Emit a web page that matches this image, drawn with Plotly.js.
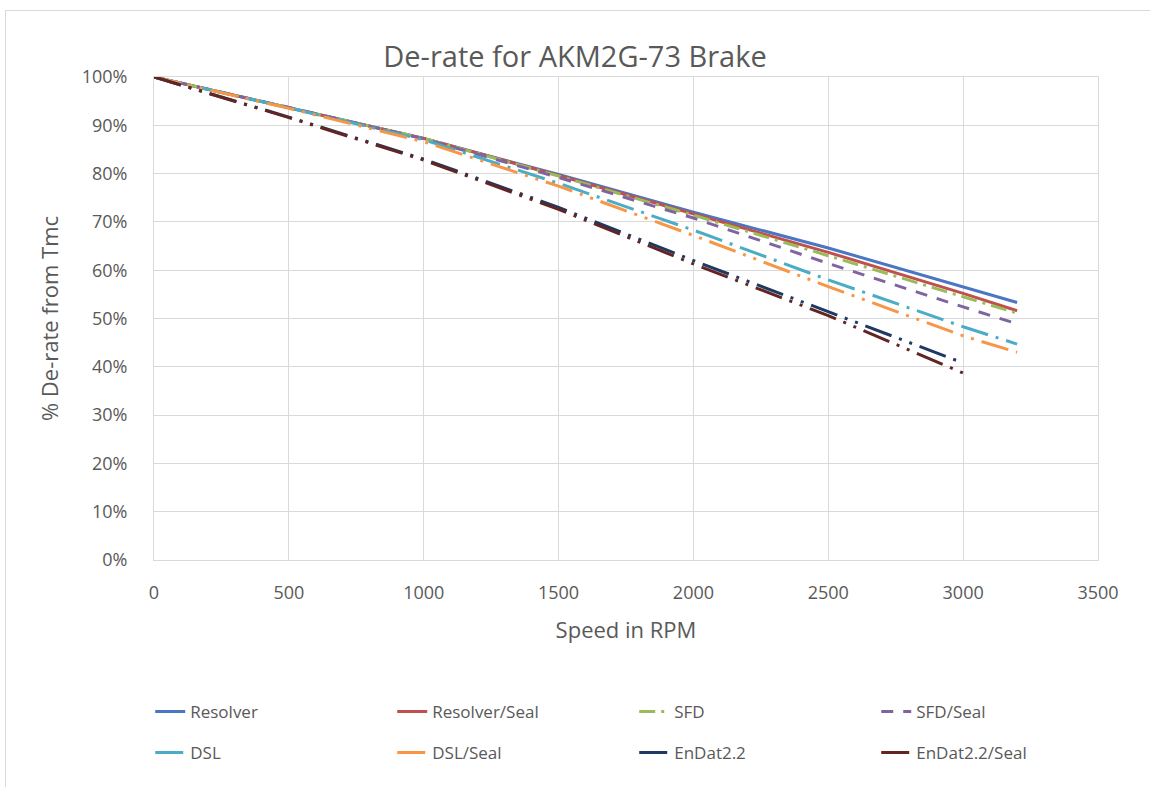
<!DOCTYPE html>
<html>
<head>
<meta charset="utf-8">
<script src="https://cdn.plot.ly/plotly-3.0.1.min.js"></script>
<style>
  html, body { margin: 0; padding: 0; background: #fff; }
  #chart { width: 1150px; height: 787px; position: absolute; left: 0; top: 0; }
  #frame { position: absolute; left: 5px; top: 10px; width: 1160px; height: 800px;
           border-left: 1px solid #d9d9d9; border-top: 1px solid #d9d9d9; pointer-events: none; }
</style>
</head>
<body>
<div id="chart"></div>
<div id="frame"></div>
<script>
const speedLong  = [0, 500, 1000, 1500, 2000, 2500, 3000, 3200];
const speedShort = [0, 500, 1000, 1500, 2000, 2500, 3000];

const seriesNames = ["Resolver", "Resolver/Seal", "SFD", "SFD/Seal",
                     "DSL", "DSL/Seal", "EnDat2.2", "EnDat2.2/Seal"];

const resolver      = [100, 93.7, 87.3, 79.8, 72.0, 64.6, 56.5, 53.3];
const resolverSeal  = [100, 93.7, 87.3, 79.6, 71.6, 63.7, 55.2, 51.6];
const sfd           = [100, 93.7, 87.3, 79.5, 71.4, 63.0, 54.4, 51.1];
const sfdSeal       = [100, 93.7, 87.2, 79.2, 70.8, 61.4, 52.4, 48.9];
const dsl           = [100, 93.6, 87.0, 78.0, 68.3, 58.0, 48.3, 44.7];
const dslSeal       = [100, 93.5, 86.6, 77.4, 67.2, 56.6, 46.4, 43.0];
const endat         = [100, 91.7, 83.0, 73.0, 62.0, 51.4, 40.8];
const endatSeal     = [100, 91.6, 82.8, 72.6, 61.3, 50.6, 38.7];

const yTickVals   = [0, 10, 20, 30, 40, 50, 60, 70, 80, 90, 100];
const yTickLabels = ["0%", "10%", "20%", "30%", "40%", "50%", "60%", "70%", "80%", "90%", "100%"];
const xTickVals   = [0, 500, 1000, 1500, 2000, 2500, 3000, 3500];

const styles = [
  {color: "#4A76C2", dash: "solid", legend: "legend"},
  {color: "#C0504D", dash: "solid", legend: "legend"},
  {color: "#9BBB59", dash: "16px,6px,3px,6px", legend: "legend"},
  {color: "#8064A2", dash: "12px,10px", legend: "legend"},
  {color: "#4BACC6", dash: "28px,8px,3px,8px", legend: "legend2"},
  {color: "#F79646", dash: "28px,8px,3px,8px,3px,8px", legend: "legend2"},
  {color: "#1F3864", dash: "28px,8px,3px,8px,3px,8px", legend: "legend2"},
  {color: "#632523", dash: "28px,8px,3px,8px,3px,8px", legend: "legend2"}
];
const xs = [speedLong, speedLong, speedLong, speedLong, speedLong, speedLong, speedShort, speedShort];
const ys = [resolver, resolverSeal, sfd, sfdSeal, dsl, dslSeal, endat, endatSeal];

const traces = seriesNames.map((n, i) => ({
  type: "scatter", mode: "lines", name: n,
  x: xs[i], y: ys[i],
  line: {color: styles[i].color, width: 3, dash: styles[i].dash},
  legend: styles[i].legend,
  hoverinfo: "skip"
}));

const txt = "#595959";
const fontFam = "Open Sans, Noto Sans, sans-serif";
const legendCommon = {
  orientation: "h", xanchor: "left", yanchor: "middle",
  x: -0.004, entrywidth: 197, entrywidthmode: "pixels",
  font: {family: fontFam, size: 17, color: txt},
  bgcolor: "rgba(0,0,0,0)", traceorder: "normal"
};

const layout = {
  width: 1150, height: 787,
  margin: {l: 154, r: 52, t: 77, b: 227},
  paper_bgcolor: "#fff", plot_bgcolor: "#fff",
  font: {family: fontFam, color: txt},
  title: {text: "De-rate for AKM2G-73 Brake", x: 0.5, xanchor: "center",
          y: 1 - 57/787, yanchor: "middle", yref: "container",
          font: {family: fontFam, size: 29, color: txt}},
  xaxis: {
    range: [0, 3500], tickvals: xTickVals, showgrid: true, gridcolor: "#d9d9d9",
    zeroline: false, showline: true, linecolor: "#d9d9d9", mirror: true,
    ticks: "", ticklabelstandoff: 16,
    tickfont: {family: fontFam, size: 18, color: txt},
    title: {text: "Speed in RPM", standoff: 20, font: {family: fontFam, size: 22, color: txt}}
  },
  yaxis: {
    range: [0, 100], tickvals: yTickVals, ticktext: yTickLabels, showgrid: true, gridcolor: "#d9d9d9",
    zeroline: false, showline: true, linecolor: "#d9d9d9", mirror: true,
    ticks: "", ticklabelstandoff: 22,
    tickfont: {family: fontFam, size: 18, color: txt},
    title: {text: "% De-rate from Tmc", standoff: 16, font: {family: fontFam, size: 22, color: txt}}
  },
  legend: Object.assign({}, legendCommon, {y: (560 - 712) / 483}),
  legend2: Object.assign({}, legendCommon, {y: (560 - 753) / 483}),
  showlegend: true
};

Plotly.newPlot("chart", traces, layout, {displayModeBar: false, staticPlot: true});
</script>
</body>
</html>
